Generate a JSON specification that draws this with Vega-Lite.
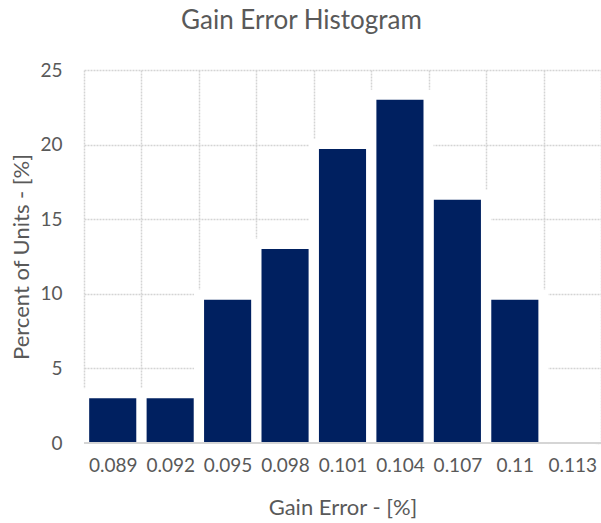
{
  "$schema": "https://vega.github.io/schema/vega-lite/v6.json",
  "width": 517,
  "height": 373,
  "autosize": "none",
  "padding": {"left": 84, "top": 70, "right": 0, "bottom": 80},
  "background": "white",
  "title": {"text": "Gain Error Histogram", "fontSize": 26, "font": "Lato", "fontWeight": "normal", "color": "#595959", "offset": 27, "anchor": "middle", "dx": -41},
  "config": {"view": {"stroke": null}, "font": "Lato"},
  "data": {"values": [
    {"bin": "0.089", "pct": 3.0},
    {"bin": "0.092", "pct": 3.0},
    {"bin": "0.095", "pct": 9.6},
    {"bin": "0.098", "pct": 13.0},
    {"bin": "0.101", "pct": 19.7},
    {"bin": "0.104", "pct": 23.0},
    {"bin": "0.107", "pct": 16.3},
    {"bin": "0.11", "pct": 9.6},
    {"bin": "0.113", "pct": 0}
  ]},
  "layer": [
    {
      "mark": {"type": "bar", "fill": "white", "stroke": "white", "strokeWidth": 20, "width": {"band": 0.82}},
      "encoding": {
        "x": {"field": "bin", "type": "ordinal", "sort": null,
              "scale": {"paddingInner": 0, "paddingOuter": 0},
              "axis": {"title": "Gain Error - [%]", "labelAngle": 0, "grid": true, "tickBand": "extent",
                       "gridColor": "#d4d4d4", "gridWidth": 1.5, "gridDash": [2, 1],
                       "ticks": false, "domain": false, "labelPadding": 13, "labelFontSize": 19, "labelColor": "#595959",
                       "titleFontSize": 22, "titleFontWeight": "normal", "titleColor": "#595959", "titlePadding": 22}},
        "y": {"field": "pct", "type": "quantitative", "scale": {"domain": [0, 25], "nice": false},
              "axis": {"title": "Percent of Units - [%]", "values": [0, 5, 10, 15, 20, 25], "grid": true,
                       "gridColor": "#d4d4d4", "gridWidth": 1.5, "gridDash": [2, 1],
                       "ticks": false, "domain": false, "labelPadding": 22, "labelFontSize": 19, "labelColor": "#595959",
                       "titleFontSize": 22, "titleFontWeight": "normal", "titleColor": "#595959", "titlePadding": 6}}
      }
    },
    {
      "mark": {"type": "bar", "color": "#002060", "width": {"band": 0.82}},
      "encoding": {
        "x": {"field": "bin", "type": "ordinal", "sort": null},
        "y": {"field": "pct", "type": "quantitative", "scale": {"domain": [0, 25], "nice": false}}
      }
    },
    {
      "mark": {"type": "rule", "color": "#d4d4d4", "strokeWidth": 1.5},
      "encoding": {"y": {"datum": 0}}
    }
  ]
}
